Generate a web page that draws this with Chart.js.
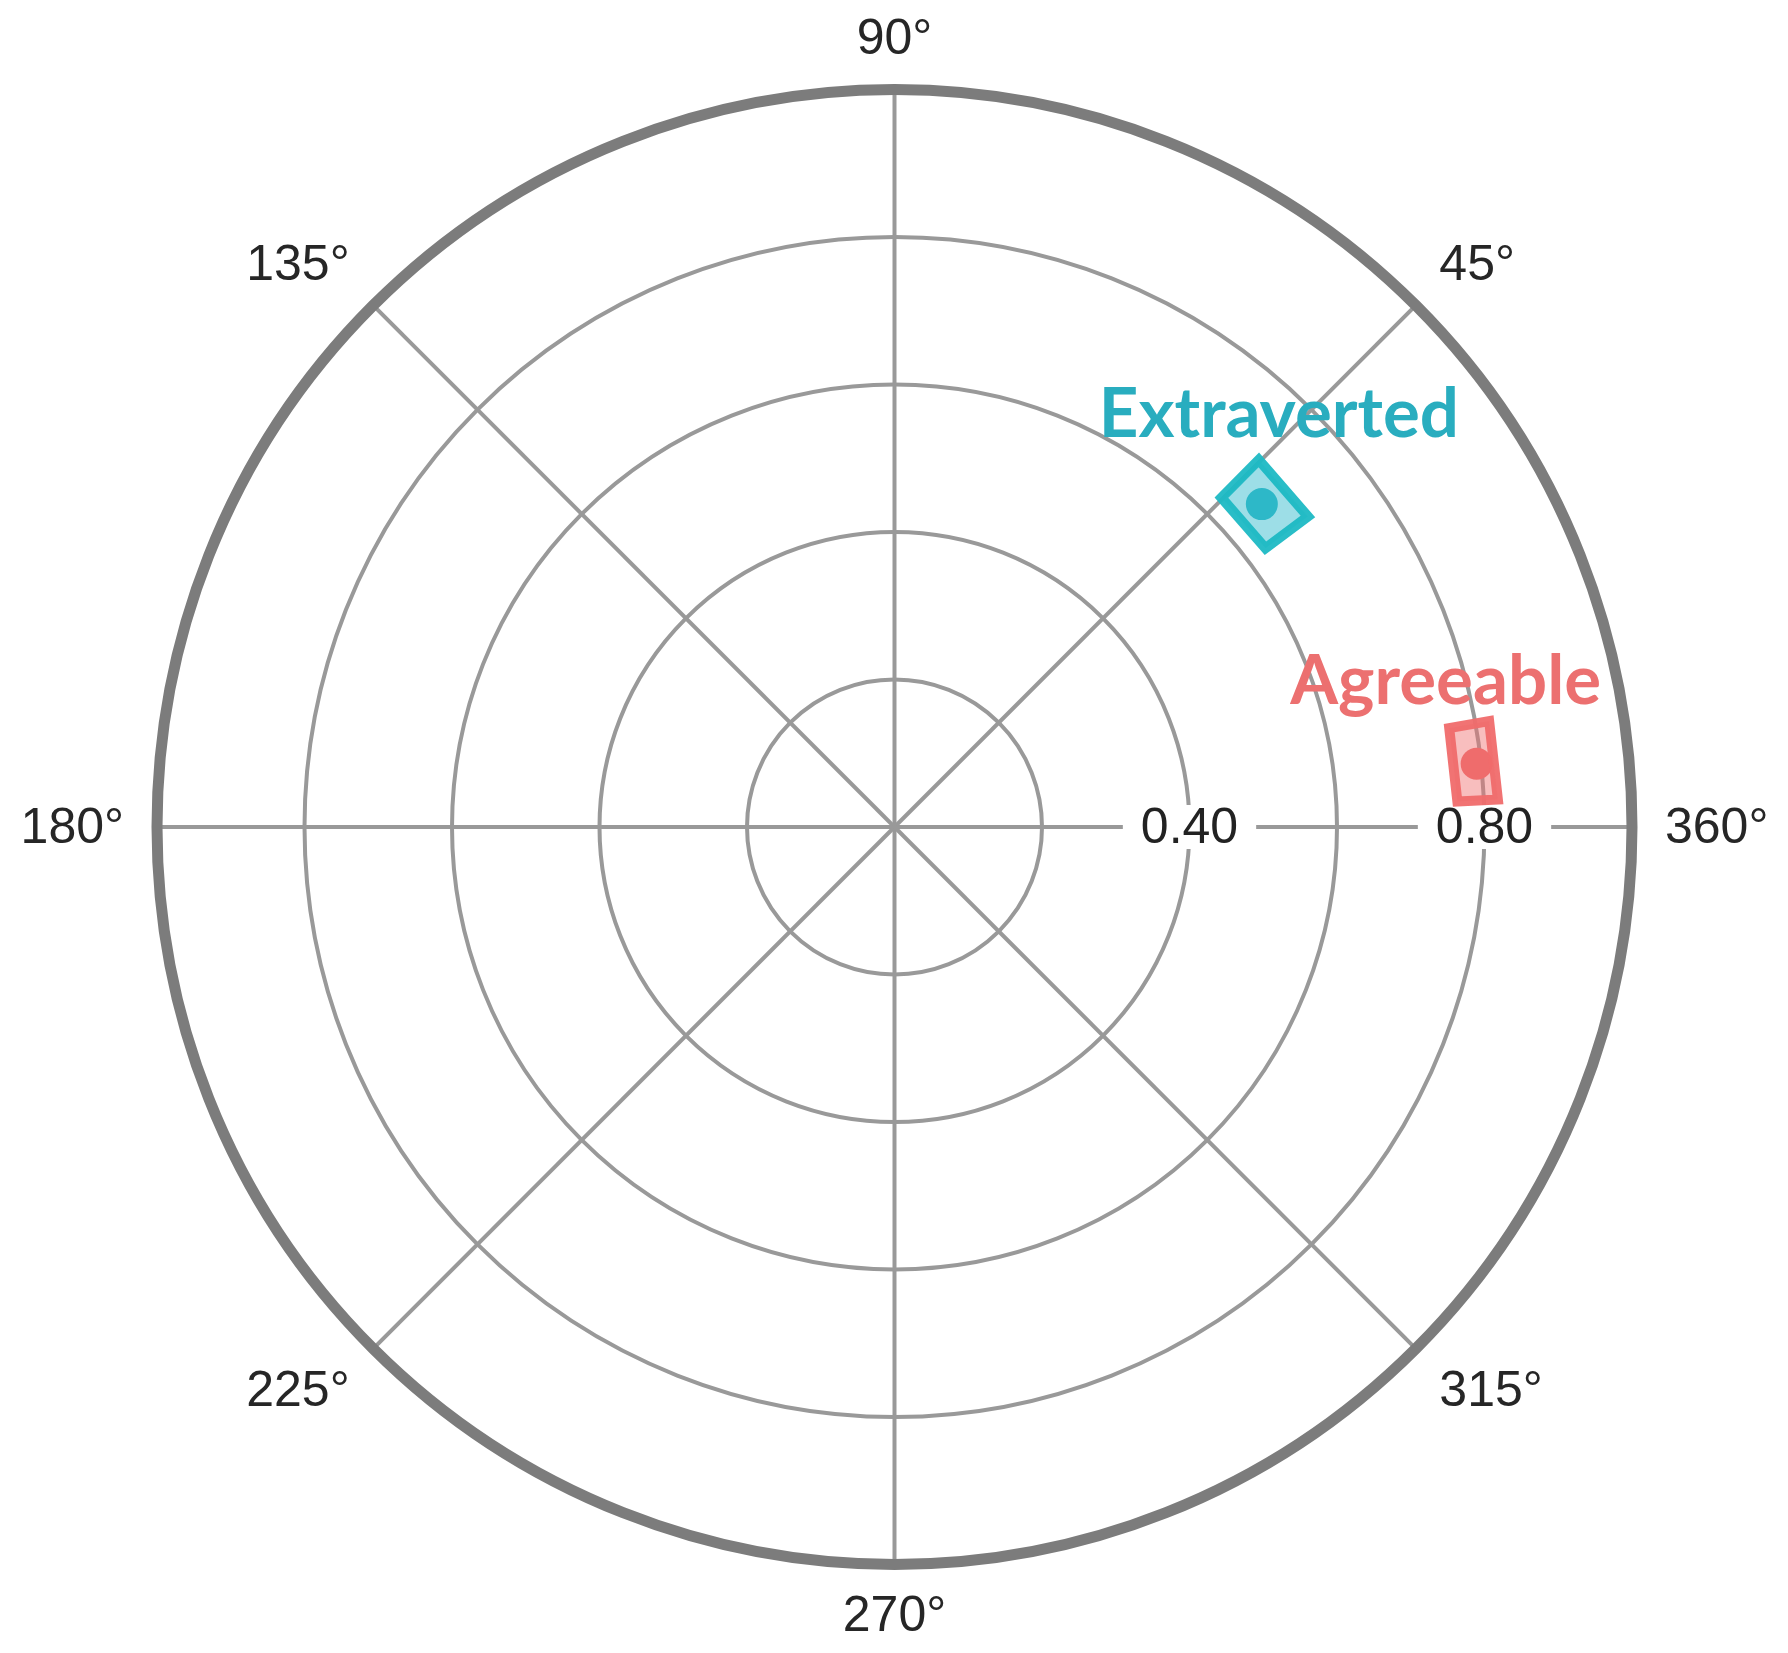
<!DOCTYPE html>
<html>
<head>
<meta charset="utf-8">
<title>Trait polar plot</title>
<script src="https://cdn.jsdelivr.net/npm/chart.js@4.4.0/dist/chart.umd.min.js"></script>
<style>
    html, body { margin: 0; padding: 0; background: #ffffff; }
    #wrap { width: 1788px; height: 1653px; }
</style>
</head>
<body>
<div id="wrap"><canvas id="polarChart"></canvas></div>
<script>
// trait estimates: angle in degrees, radius on a 0..1 scale
const traits = ['Extraverted', 'Agreeable'];
const traitAngle = [41.3, 6.2];
const traitRadius = [0.663, 0.794];

// interval boxes around each estimate
const angleLow = [36.9, 2.6];
const angleHigh = [45.2, 10.1];
const radiusLow = [0.629, 0.764];
const radiusHigh = [0.701, 0.819];

// grid
const ringValues = [0.2, 0.4, 0.6, 0.8];
const ringLabels = ['', '0.40', '', '0.80'];
const spokeAngles = [0, 45, 90, 135, 180, 225, 270, 315];
const spokeLabels = ['360°', '45°', '90°', '135°', '180°', '225°', '270°', '315°'];
const outerRadius = 1;

// styles
const pointColors = ['#1fb3c1', '#ef6b6b'];
const boxBorders = ['rgba(30, 185, 196, 0.95)', 'rgba(240, 108, 108, 0.95)'];
const boxFills = ['rgba(60, 190, 208, 0.5)', 'rgba(240, 110, 110, 0.45)'];
const labelColors = ['#29adbf', '#ec7070'];
const labelOffsets = [[17, -67], [-31, -60]];

function toXY(angle, r) {
    const rad = angle * Math.PI / 180;
    return { x: r * Math.cos(rad), y: r * Math.sin(rad) };
}

const datasets = [];
traits.forEach((name, i) => {
    // walk the box once and step onto the second corner again so the last join is drawn
    const corners = [
        toXY(angleLow[i], radiusLow[i]),
        toXY(angleLow[i], radiusHigh[i]),
        toXY(angleHigh[i], radiusHigh[i]),
        toXY(angleHigh[i], radiusLow[i]),
        toXY(angleLow[i], radiusLow[i]),
        toXY(angleLow[i], radiusHigh[i])
    ];
    datasets.push({
        label: name + ' interval',
        data: corners,
        showLine: true,
        fill: 'shape',
        backgroundColor: boxFills[i],
        borderColor: boxBorders[i],
        borderWidth: 10,
        borderJoinStyle: 'miter',
        pointRadius: 0,
        clip: false
    });
    datasets.push({
        label: name,
        data: [toXY(traitAngle[i], traitRadius[i])],
        backgroundColor: pointColors[i],
        borderWidth: 0,
        pointRadius: 16,
        clip: false
    });
});

const polarGrid = {
    id: 'polarGrid',
    beforeDatasetsDraw(chart) {
        const { ctx, scales: { x, y } } = chart;
        const cx = x.getPixelForValue(0);
        const cy = y.getPixelForValue(0);
        const unit = x.getPixelForValue(1) - cx;
        ctx.save();

        // inner rings and spokes
        ctx.strokeStyle = '#999999';
        ctx.lineWidth = 4;
        ringValues.forEach(r => {
            ctx.beginPath();
            ctx.arc(cx, cy, r * unit, 0, 2 * Math.PI);
            ctx.stroke();
        });
        spokeAngles.forEach(a => {
            const p = toXY(a, outerRadius);
            ctx.beginPath();
            ctx.moveTo(cx, cy);
            ctx.lineTo(x.getPixelForValue(p.x), y.getPixelForValue(p.y));
            ctx.stroke();
        });

        // outer circle
        ctx.strokeStyle = '#7c7c7c';
        ctx.lineWidth = 11;
        ctx.beginPath();
        ctx.arc(cx, cy, outerRadius * unit, 0, 2 * Math.PI);
        ctx.stroke();

        // radius labels along 0°
        ctx.font = '50px "Liberation Sans", Arial, sans-serif';
        ctx.textAlign = 'center';
        ctx.textBaseline = 'middle';
        ringValues.forEach((r, i) => {
            const text = ringLabels[i];
            if (!text) return;
            const px = x.getPixelForValue(r);
            const w = ctx.measureText(text).width;
            ctx.fillStyle = '#ffffff';
            ctx.fillRect(px - w / 2 - 18, cy - 22, w + 36, 44);
            ctx.fillStyle = '#222222';
            ctx.fillText(text, px, cy + 2);
        });

        // angle labels outside the circle
        const gap = 33;
        const halfH = 18;
        spokeAngles.forEach((a, i) => {
            const rad = a * Math.PI / 180;
            const c = Math.cos(rad), s = Math.sin(rad);
            const rr = outerRadius * unit + gap;
            let px = cx + c * rr;
            let py = cy - s * rr;
            ctx.textAlign = c > 0.1 ? 'left' : (c < -0.1 ? 'right' : 'center');
            if (s > 0.1) py -= halfH;
            if (s < -0.1) py += halfH;
            ctx.fillStyle = '#262626';
            ctx.fillText(spokeLabels[i], px, py + 2);
        });

        ctx.restore();
    },
    afterDatasetsDraw(chart) {
        const { ctx, scales: { x, y } } = chart;
        ctx.save();
        ctx.font = 'bold 69px Lato, "Open Sans", sans-serif';
        ctx.textAlign = 'center';
        ctx.textBaseline = 'alphabetic';
        traits.forEach((name, i) => {
            const p = toXY(traitAngle[i], traitRadius[i]);
            ctx.fillStyle = labelColors[i];
            ctx.fillText(name, x.getPixelForValue(p.x) + labelOffsets[i][0], y.getPixelForValue(p.y) + labelOffsets[i][1]);
        });
        ctx.restore();
    }
};

new Chart(document.getElementById('polarChart'), {
    type: 'scatter',
    data: { datasets: datasets },
    options: {
        responsive: true,
        maintainAspectRatio: false,
        animation: false,
        events: [],
        layout: { padding: { left: 157, right: 156, top: 89, bottom: 88 } },
        scales: {
            x: { type: 'linear', min: -1, max: 1, display: false },
            y: { type: 'linear', min: -1, max: 1, display: false }
        },
        plugins: {
            legend: { display: false },
            tooltip: { enabled: false }
        }
    },
    plugins: [polarGrid]
});
</script>
</body>
</html>
